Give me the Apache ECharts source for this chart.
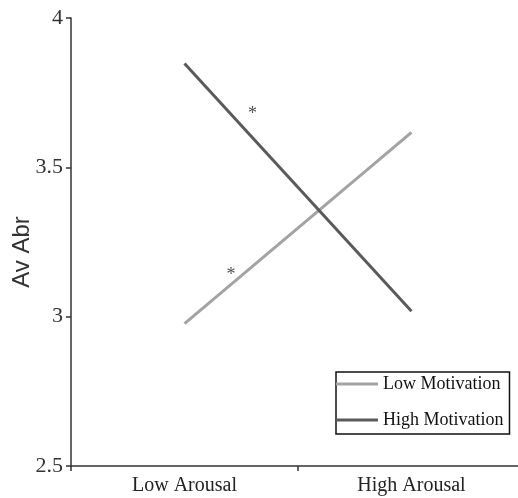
<!DOCTYPE html>
<html>
<head>
<meta charset="utf-8">
<script src="https://cdn.jsdelivr.net/npm/echarts@6/dist/echarts.min.js"></script>
<style>
html,body{margin:0;padding:0;background:#fff;}
#chart{width:518px;height:498px;}
</style>
</head>
<body>
<div id="chart"></div>
<script>
var categories = ['Low Arousal', 'High Arousal'];
var lowMotivation = [2.977, 3.617];
var highMotivation = [3.848, 3.018];
var yTicks = [2.5, 3, 3.5, 4];
var asterisks = [[0.30, 3.677], [0.205, 3.14]];

var chart = echarts.init(document.getElementById('chart'));
var serif = '"Liberation Serif", "DejaVu Serif", serif';
chart.setOption({
  animation: false,
  backgroundColor: '#fff',
  grid: { left: 71, right: -7, top: 18, bottom: 32, containLabel: false, outerBoundsMode: 'none' },
  legend: {
    orient: 'vertical',
    left: 336,
    top: 372,
    padding: [1, 6, 3, 0],
    icon: 'rect',
    itemWidth: 42,
    itemHeight: 3,
    itemGap: 14,
    borderColor: '#111',
    borderWidth: 1.5,
    textStyle: { fontFamily: serif, fontSize: 18, color: '#111', lineHeight: 22 },
    data: ['Low Motivation', 'High Motivation']
  },
  xAxis: [{
    type: 'category',
    data: categories,
    boundaryGap: true,
    axisLine: { lineStyle: { color: '#333', width: 1.5 } },
    axisTick: { show: true, length: 5, lineStyle: { color: '#333', width: 1.5 } },
    axisLabel: { fontFamily: serif, fontSize: 20, color: '#222', margin: 10 }
  }, {
    type: 'value', min: -0.5, max: 1.5, show: false
  }],
  yAxis: {
    type: 'value',
    min: 2.5, max: 4, interval: 0.5,
    name: 'Av Abr',
    nameLocation: 'middle',
    nameGap: 37,
    nameMoveOverlap: false,
    nameTextStyle: { fontFamily: 'Liberation Sans, Arial, sans-serif', fontSize: 24, color: '#333', padding: [0, 20, 0, 0] },
    axisLine: { show: true, onZero: false, lineStyle: { color: '#333', width: 1.5 } },
    axisTick: { show: true, length: 5, lineStyle: { color: '#333', width: 1.5 } },
    splitLine: { show: false },
    axisLabel: {
      fontFamily: serif, fontSize: 22, color: '#333', margin: 8,
      formatter: function (v) { return yTicks.indexOf(v) >= 0 ? String(v) : ''; }
    }
  },
  series: [{
    name: 'Low Motivation',
    type: 'line',
    data: lowMotivation,
    showSymbol: false,
    symbol: 'none',
    lineStyle: { color: '#a3a3a3', width: 3 },
    itemStyle: { color: '#a3a3a3' }
  }, {
    name: 'High Motivation',
    type: 'line',
    data: highMotivation,
    showSymbol: false,
    symbol: 'none',
    lineStyle: { color: '#5a5a5a', width: 3 },
    itemStyle: { color: '#5a5a5a' }
  }, {
    name: 'sig',
    type: 'scatter',
    xAxisIndex: 1,
    data: asterisks,
    symbolSize: 1,
    itemStyle: { color: 'rgba(0,0,0,0)' },
    label: {
      show: true, position: 'inside', formatter: '*',
      fontFamily: serif, fontSize: 18, color: '#222'
    },
    silent: true
  }]
});
</script>
</body>
</html>
